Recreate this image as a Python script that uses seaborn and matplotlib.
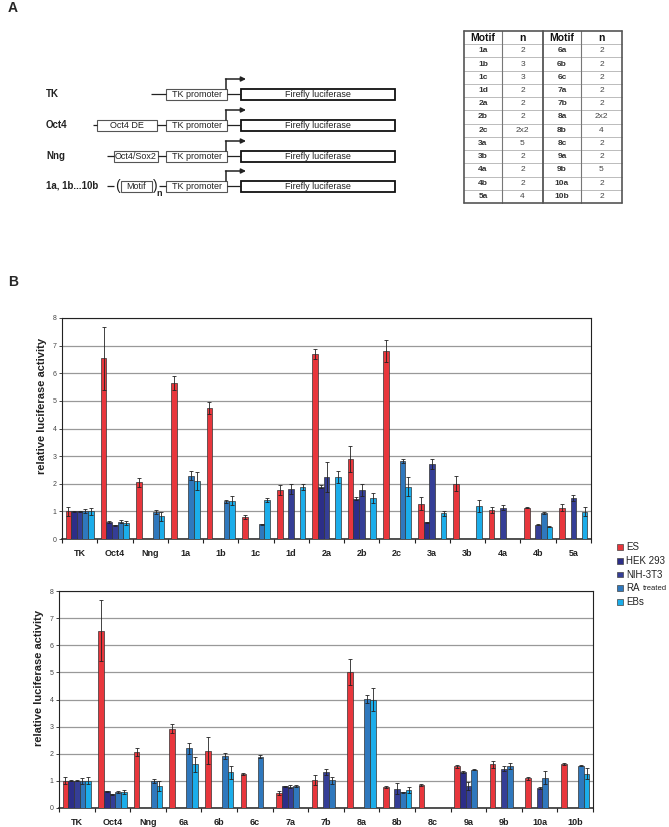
import numpy as np
import pandas as pd
import seaborn as sns
import matplotlib.pyplot as plt
from matplotlib.patches import Rectangle

nan = np.nan

cells = ['ES', 'HEK 293', 'NIH-3T3', 'RA treated', 'EBs']
colors = ['#e8363c', '#2c2e88', '#353e96', '#2f78bd', '#1badea']

# panel A table
motifs_left = ['1a', '1b', '1c', '1d', '2a', '2b', '2c', '3a', '3b', '4a', '4b', '5a']
n_left = ['2', '3', '3', '2', '2', '2', '2x2', '5', '2', '2', '2', '4']
motifs_right = ['6a', '6b', '6c', '7a', '7b', '8a', '8b', '8c', '9a', '9b', '10a', '10b']
n_right = ['2', '2', '2', '2', '2', '2x2', '4', '2', '2', '5', '2', '2']

# panel B, upper chart
top_groups = ['TK', 'Oct4', 'Nng', '1a', '1b', '1c', '1d', '2a', '2b', '2c', '3a', '3b', '4a', '4b', '5a']
top_es = [1.00, 6.54, 2.05, 5.65, 4.73, 0.80, 1.77, 6.70, 2.89, 6.81, 1.28, 2.00, 1.05, 1.14, 1.14]
top_es_err = [0.15, 1.15, 0.15, 0.25, 0.22, 0.08, 0.18, 0.17, 0.48, 0.41, 0.24, 0.27, 0.11, 0.03, 0.12]
top_hek = [1.01, 0.61, nan, nan, nan, nan, nan, 1.89, 1.46, nan, 0.60, nan, nan, nan, nan]
top_hek_err = [0.02, 0.03, nan, nan, nan, nan, nan, 0.05, 0.06, nan, 0.02, nan, nan, nan, nan]
top_nih = [1.00, 0.49, nan, nan, nan, nan, 1.81, 2.23, 1.78, nan, 2.72, nan, 1.14, 0.52, 1.48]
top_nih_err = [0.02, 0.02, nan, nan, nan, nan, 0.17, 0.54, 0.22, nan, 0.17, nan, 0.08, 0.02, 0.11]
top_ra = [1.00, 0.62, 0.98, 2.29, 1.36, 0.53, nan, nan, nan, 2.83, nan, nan, nan, 0.94, nan]
top_ra_err = [0.07, 0.05, 0.08, 0.17, 0.04, 0.02, nan, nan, nan, 0.08, nan, nan, nan, 0.03, nan]
top_ebs = [1.00, 0.58, 0.82, 2.10, 1.39, 1.41, 1.87, 2.24, 1.50, 1.90, 0.93, 1.19, nan, 0.45, 0.99]
top_ebs_err = [0.12, 0.07, 0.16, 0.32, 0.15, 0.07, 0.11, 0.23, 0.18, 0.34, 0.10, 0.23, nan, 0.01, 0.17]

# panel B, lower chart
bot_groups = ['TK', 'Oct4', 'Nng', '6a', '6b', '6c', '7a', '7b', '8a', '8b', '8c', '9a', '9b', '10a', '10b']
bot_es = [1.00, 6.54, 2.05, 2.93, 2.11, 1.25, 0.55, 1.03, 5.03, 0.77, 0.85, 1.53, 1.61, 1.09, 1.63]
bot_es_err = [0.13, 1.13, 0.15, 0.18, 0.49, 0.05, 0.08, 0.17, 0.48, 0.04, 0.04, 0.04, 0.12, 0.04, 0.04]
bot_hek = [1.00, 0.61, nan, nan, nan, nan, 0.80, nan, nan, nan, nan, 1.33, nan, nan, nan]
bot_hek_err = [0.02, 0.03, nan, nan, nan, nan, 0.02, nan, nan, nan, nan, 0.05, nan, nan, nan]
bot_nih = [1.00, 0.50, nan, nan, nan, nan, 0.78, 1.33, nan, 0.71, nan, 0.81, 1.44, 0.74, nan]
bot_nih_err = [0.02, 0.02, nan, nan, nan, nan, 0.06, 0.10, nan, 0.20, nan, 0.15, 0.09, 0.04, nan]
bot_ra = [1.00, 0.59, 0.99, 2.20, 1.90, 1.89, 0.80, 1.02, 4.02, 0.58, nan, 1.41, 1.55, 1.12, 1.56]
bot_ra_err = [0.10, 0.05, 0.07, 0.20, 0.11, 0.05, 0.03, 0.14, 0.16, 0.02, nan, 0.02, 0.10, 0.23, 0.02]
bot_ebs = [1.00, 0.59, 0.81, 1.61, 1.31, nan, nan, nan, 4.00, 0.67, nan, nan, nan, nan, 1.26]
bot_ebs_err = [0.13, 0.07, 0.17, 0.28, 0.23, nan, nan, nan, 0.44, 0.11, nan, nan, nan, nan, 0.20]

sns.set_style('white')
plt.rcParams['font.family'] = ['Liberation Sans', 'DejaVu Sans']

W, H = 669, 827
fig = plt.figure(figsize=(W / 100, H / 100), dpi=100)

# overlay in pixel coords (y down) for panel A, labels, legend
ov = fig.add_axes([0, 0, 1, 1], zorder=0)
ov.set_xlim(0, W)
ov.set_ylim(H, 0)
ov.axis('off')

ov.text(8, 8, 'A', fontsize=10, fontweight='bold', va='center', ha='left')
ov.text(8, 282, 'B', fontsize=10, fontweight='bold', va='center', ha='left')

# ---- construct diagram
def box(x0, x1, yc, label, lw=0.8, ec='#555555'):
    ov.add_patch(Rectangle((x0, yc - 5.5), x1 - x0, 11, fill=False, ec=ec, lw=lw))
    ov.text((x0 + x1) / 2, yc + 0.5, label, fontsize=6.5, ha='center', va='center', color='#222222')

def hline(x0, x1, yc):
    ov.plot([x0, x1], [yc, yc], color='#222222', lw=0.9, solid_capstyle='butt')

rows = [('TK', 94), ('Oct4', 125), ('Nng', 156), ('1a, 1b...10b', 186)]
for label, yc in rows:
    ov.text(46, yc, label, fontsize=7, fontweight='bold', ha='left', va='center', color='#222222')
    box(166, 227, yc, 'TK promoter')
    hline(227, 241, yc)
    box(241, 395, yc, 'Firefly luciferase', lw=1.3, ec='#111111')
    ov.plot([226, 226], [yc - 5.5, yc - 15], color='#222222', lw=1.1)
    ov.annotate('', xy=(246, yc - 15), xytext=(225.5, yc - 15),
                arrowprops=dict(arrowstyle='-|>', lw=1.1, color='#222222',
                                mutation_scale=7, shrinkA=0, shrinkB=0))

hline(151, 166, 94)
hline(93, 97, 125)
box(97, 157, 125, 'Oct4 DE')
hline(157, 166, 125)
hline(107, 114, 156)
box(114, 158, 156, 'Oct4/Sox2')
hline(158, 166, 156)
hline(107, 114, 186)
ov.text(117, 186, '(', fontsize=10, ha='center', va='center', color='#222222')
box(121, 152, 186, 'Motif')
ov.text(155.5, 186, ')', fontsize=10, ha='center', va='center', color='#222222')
ov.text(159.5, 194, 'n', fontsize=6.5, fontweight='bold', ha='center', va='center', color='#222222')
hline(159, 166, 186)

# ---- motif table
cols_x = [464, 502, 543, 581, 622]
t_top, row_h = 31, 13.23
n_rows = len(motifs_left) + 1
t_bot = t_top + row_h * n_rows
for i in range(1, n_rows):
    y = t_top + i * row_h
    ov.plot([cols_x[0], cols_x[-1]], [y, y], color='#bbbbbb', lw=0.7)
for x, lw, c in zip(cols_x, [1.2, 0.8, 1.3, 0.8, 1.2], ['#555', '#777', '#555', '#777', '#555']):
    ov.plot([x, x], [t_top, t_bot], color=c, lw=lw)
ov.plot([cols_x[0], cols_x[-1]], [t_top, t_top], color='#555', lw=1.2)
ov.plot([cols_x[0], cols_x[-1]], [t_bot, t_bot], color='#555', lw=1.2)

centers = [(cols_x[i] + cols_x[i + 1]) / 2 for i in range(4)]
for cx, h in zip(centers, ['Motif', 'n', 'Motif', 'n']):
    ov.text(cx, t_top + row_h / 2, h, fontsize=7.5, fontweight='bold', ha='center', va='center', color='#111')
for i in range(len(motifs_left)):
    yc = t_top + (i + 1.5) * row_h
    ov.text(centers[0], yc, motifs_left[i], fontsize=6, fontweight='bold', ha='center', va='center', color='#333')
    ov.text(centers[1], yc, n_left[i], fontsize=6, ha='center', va='center', color='#444')
    ov.text(centers[2], yc, motifs_right[i], fontsize=6, fontweight='bold', ha='center', va='center', color='#333')
    ov.text(centers[3], yc, n_right[i], fontsize=6, ha='center', va='center', color='#444')

# ---- bar charts
def make_df(groups, series, errs):
    recs = []
    for cell, vals, ers in zip(cells, series, errs):
        for g, v, e in zip(groups, vals, ers):
            recs.append({'group': g, 'cell': cell, 'value': v, 'err': e})
    return pd.DataFrame(recs)

def draw_chart(rect, groups, series, errs):
    ax = fig.add_axes(rect, zorder=2)
    df = make_df(groups, series, errs)
    sns.barplot(data=df, x='group', y='value', hue='cell', order=groups, hue_order=cells,
                palette=colors, saturation=1, width=0.8, errorbar=None,
                edgecolor='#333333', linewidth=0.5, legend=False, ax=ax, zorder=3)
    w = 0.8 / len(cells)
    d = df.dropna(subset=['value'])
    xs = [groups.index(g) + (cells.index(c) - 2) * w for g, c in zip(d['group'], d['cell'])]
    ax.errorbar(xs, d['value'], yerr=d['err'], fmt='none', ecolor='#222222',
                elinewidth=0.6, capsize=1.6, capthick=0.6, zorder=4)
    ax.set_xlim(-0.5, len(groups) - 0.5)
    ax.set_ylim(0, 8)
    ax.set_yticks(range(9))
    ax.yaxis.grid(True, color='#999999', lw=0.9, zorder=0)
    ax.set_axisbelow(True)
    for s in ax.spines.values():
        s.set_visible(True)
        s.set_color('#222222')
        s.set_linewidth(0.8)
    ax.spines['bottom'].set_linewidth(1.1)
    ax.set_xticks(range(len(groups)))
    ax.set_xticklabels(groups, fontsize=6.5, fontweight='bold', color='#222222')
    ax.set_xticks(np.arange(-0.5, len(groups), 1), minor=True)
    ax.tick_params(axis='x', which='major', length=0, pad=7)
    ax.tick_params(axis='x', which='minor', length=3, width=0.8, direction='out', color='#222222', bottom=True)
    ax.tick_params(axis='y', which='major', length=2, width=0.6, direction='out', left=True,
                   labelsize=5, labelcolor='#444444', pad=2)
    ax.set_xlabel('')
    ax.set_ylabel('relative luciferase activity', fontsize=8, fontweight='bold', color='#222222')
    ax.yaxis.set_label_coords(-0.028, 0.6)
    return ax

draw_chart([62 / W, 1 - 539 / H, (591 - 62) / W, (539 - 318) / H], top_groups,
           [top_es, top_hek, top_nih, top_ra, top_ebs],
           [top_es_err, top_hek_err, top_nih_err, top_ra_err, top_ebs_err])
draw_chart([59 / W, 1 - 808 / H, (593 - 59) / W, (808 - 591) / H], bot_groups,
           [bot_es, bot_hek, bot_nih, bot_ra, bot_ebs],
           [bot_es_err, bot_hek_err, bot_nih_err, bot_ra_err, bot_ebs_err])

# ---- legend
leg_y = [547, 561, 574.5, 588, 602]
for cell, c, y in zip(cells, colors, leg_y):
    ov.add_patch(Rectangle((617, y - 2.8), 5.6, 5.6, fc=c, ec='#444444', lw=0.5))
    if cell == 'RA treated':
        ov.text(626.5, y, 'RA', fontsize=7, ha='left', va='center', color='#222')
        ov.text(642.5, y + 0.5, 'treated', fontsize=5.5, ha='left', va='center', color='#222')
    else:
        ov.text(626.5, y, cell, fontsize=7, ha='left', va='center', color='#222')

fig.savefig('out.png', dpi=100)
